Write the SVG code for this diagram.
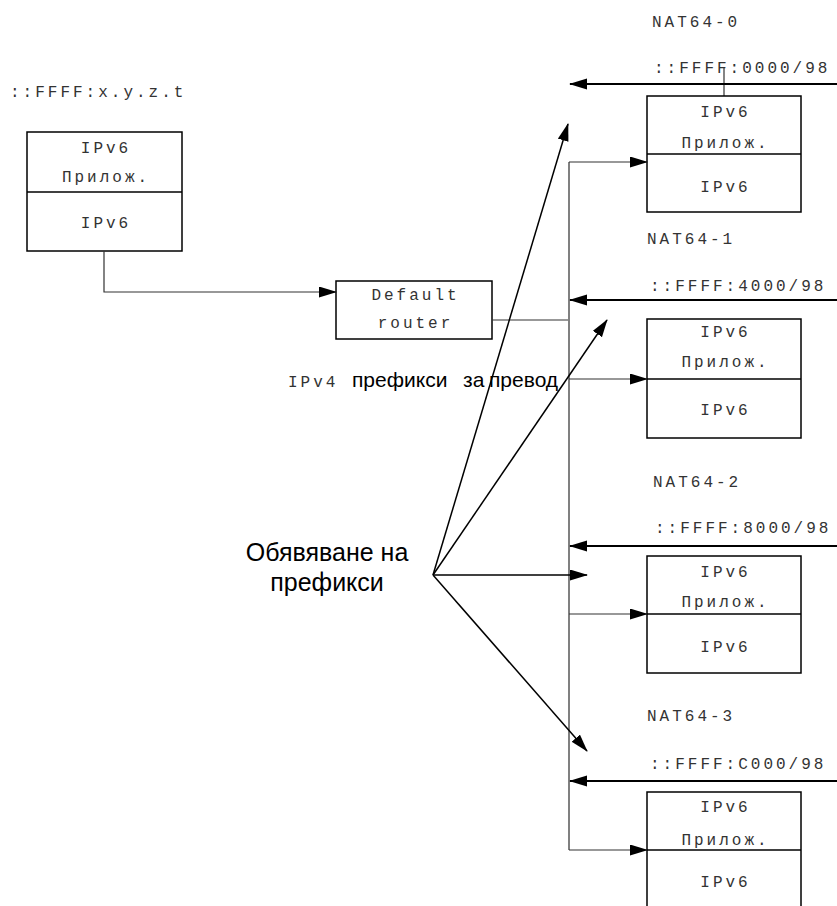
<svg xmlns="http://www.w3.org/2000/svg" width="837" height="906" viewBox="0 0 837 906">
  <style>
    .box { fill: #ffffff; stroke: #000000; stroke-width: 1.5; }
    .div { stroke: #000000; stroke-width: 1.5; }
    .mono { font-family: "Liberation Mono", "DejaVu Sans Mono", monospace; font-size: 16px; letter-spacing: 3px; fill: #333333; }
    .sans { font-family: "Liberation Sans", Arial, sans-serif; fill: #000000; }
    .bus { stroke: #808080; stroke-width: 2; fill: none; }
    .branch { stroke: #333333; stroke-width: 1.2; fill: none; }
    .adv { stroke: #000000; stroke-width: 2; fill: none; }
    .ann { stroke: #000000; stroke-width: 1.5; fill: none; }
  </style>
  <defs>
    <marker id="arrow" markerUnits="userSpaceOnUse" markerWidth="18" markerHeight="12" refX="17" refY="5.5" orient="auto">
      <path d="M0,0 L18,5.5 L0,11 z" fill="#000000"/>
    </marker>
  </defs>

  <rect width="837" height="906" fill="#ffffff"/>

  <!-- IPv6 host -->
  <g id="host">
    <text class="mono" x="10" y="97">::FFFF:x.y.z.t</text>
    <rect class="box" x="27" y="132" width="155" height="119"/>
    <line class="div" x1="27" y1="192" x2="182" y2="192"/>
    <text class="mono" x="106" y="153" text-anchor="middle">IPv6</text>
    <text class="mono" x="106" y="182" text-anchor="middle">Прилож.</text>
    <text class="mono" x="106" y="228" text-anchor="middle">IPv6</text>
  </g>

  <!-- Default router -->
  <g id="router">
    <rect class="box" x="336" y="281" width="156" height="58"/>
    <text class="mono" x="415.5" y="300" text-anchor="middle">Default</text>
    <text class="mono" x="415.5" y="328" text-anchor="middle">router</text>
  </g>

  <!-- NAT64-0 -->
  <g id="nat64-0">
    <text class="mono" x="652" y="27">NAT64-0</text>
    <text class="mono" x="654" y="73">::FFFF:0000/98</text>
    <line x1="724" y1="68" x2="724" y2="96" stroke="#333333" stroke-width="1.2"/>
    <rect class="box" x="647" y="96" width="154" height="116"/>
    <line class="div" x1="647" y1="154" x2="801" y2="154"/>
    <text class="mono" x="725.5" y="117" text-anchor="middle">IPv6</text>
    <text class="mono" x="725.5" y="148" text-anchor="middle">Прилож.</text>
    <text class="mono" x="725.5" y="192" text-anchor="middle">IPv6</text>
  </g>

  <!-- NAT64-1 -->
  <g id="nat64-1">
    <text class="mono" x="647" y="244">NAT64-1</text>
    <text class="mono" x="650" y="291">::FFFF:4000/98</text>
    <rect class="box" x="647" y="319" width="154" height="119"/>
    <line class="div" x1="647" y1="379" x2="801" y2="379"/>
    <text class="mono" x="725.5" y="337" text-anchor="middle">IPv6</text>
    <text class="mono" x="725.5" y="367" text-anchor="middle">Прилож.</text>
    <text class="mono" x="725.5" y="415" text-anchor="middle">IPv6</text>
  </g>

  <!-- NAT64-2 -->
  <g id="nat64-2">
    <text class="mono" x="653" y="487">NAT64-2</text>
    <text class="mono" x="655" y="533">::FFFF:8000/98</text>
    <rect class="box" x="647" y="556" width="154" height="117"/>
    <line class="div" x1="647" y1="614" x2="801" y2="614"/>
    <text class="mono" x="725.5" y="577" text-anchor="middle">IPv6</text>
    <text class="mono" x="725.5" y="607" text-anchor="middle">Прилож.</text>
    <text class="mono" x="725.5" y="652" text-anchor="middle">IPv6</text>
  </g>

  <!-- NAT64-3 -->
  <g id="nat64-3">
    <text class="mono" x="647" y="721">NAT64-3</text>
    <text class="mono" x="650" y="769">::FFFF:C000/98</text>
    <rect class="box" x="647" y="792" width="154" height="120"/>
    <line class="div" x1="647" y1="850" x2="801" y2="850"/>
    <text class="mono" x="725.5" y="812" text-anchor="middle">IPv6</text>
    <text class="mono" x="725.5" y="845" text-anchor="middle">Прилож.</text>
    <text class="mono" x="725.5" y="887" text-anchor="middle">IPv6</text>
  </g>

  <!-- Captions -->
  <g id="ipv4-caption">
    <text class="mono" x="288" y="387">IPv4</text>
    <text class="sans" x="352" y="387" font-size="21">префикси</text>
    <text class="sans" x="463" y="387" font-size="21">за</text>
    <text class="sans" x="489" y="387" font-size="21">превод</text>
  </g>
  <g id="announce">
    <text class="sans" x="327" y="561" font-size="25" text-anchor="middle">Обявяване на</text>
    <text class="sans" x="327" y="591" font-size="25" text-anchor="middle">префикси</text>
  </g>

  <!-- Connectors -->
  <g id="connectors">
    <!-- host to router -->
    <polyline class="branch" points="104,251 104,292 336,292" marker-end="url(#arrow)"/>
    <!-- router to bus -->
    <line class="branch" x1="492" y1="320" x2="569" y2="320"/>
    <!-- bus -->
    <line class="bus" x1="569" y1="162" x2="569" y2="850"/>
    <!-- bus branches to NAT64 boxes -->
    <line class="branch" x1="569" y1="162" x2="647" y2="162" marker-end="url(#arrow)"/>
    <line class="branch" x1="569" y1="379" x2="647" y2="379" marker-end="url(#arrow)"/>
    <line class="branch" x1="569" y1="614" x2="647" y2="614" marker-end="url(#arrow)"/>
    <line class="branch" x1="569" y1="850" x2="647" y2="850" marker-end="url(#arrow)"/>
    <!-- advertised prefixes -->
    <line class="adv" x1="837" y1="84" x2="570" y2="84" marker-end="url(#arrow)"/>
    <line class="adv" x1="837" y1="300" x2="570" y2="300" marker-end="url(#arrow)"/>
    <line class="adv" x1="837" y1="546" x2="570" y2="546" marker-end="url(#arrow)"/>
    <line class="adv" x1="837" y1="781" x2="570" y2="781" marker-end="url(#arrow)"/>
    <!-- prefix announcements -->
    <line class="ann" x1="433" y1="575" x2="568" y2="124" marker-end="url(#arrow)"/>
    <line class="ann" x1="433" y1="575" x2="607" y2="320" marker-end="url(#arrow)"/>
    <line class="ann" x1="433" y1="575" x2="587" y2="575" marker-end="url(#arrow)"/>
    <line class="ann" x1="433" y1="575" x2="587" y2="751" marker-end="url(#arrow)"/>
  </g>
</svg>
